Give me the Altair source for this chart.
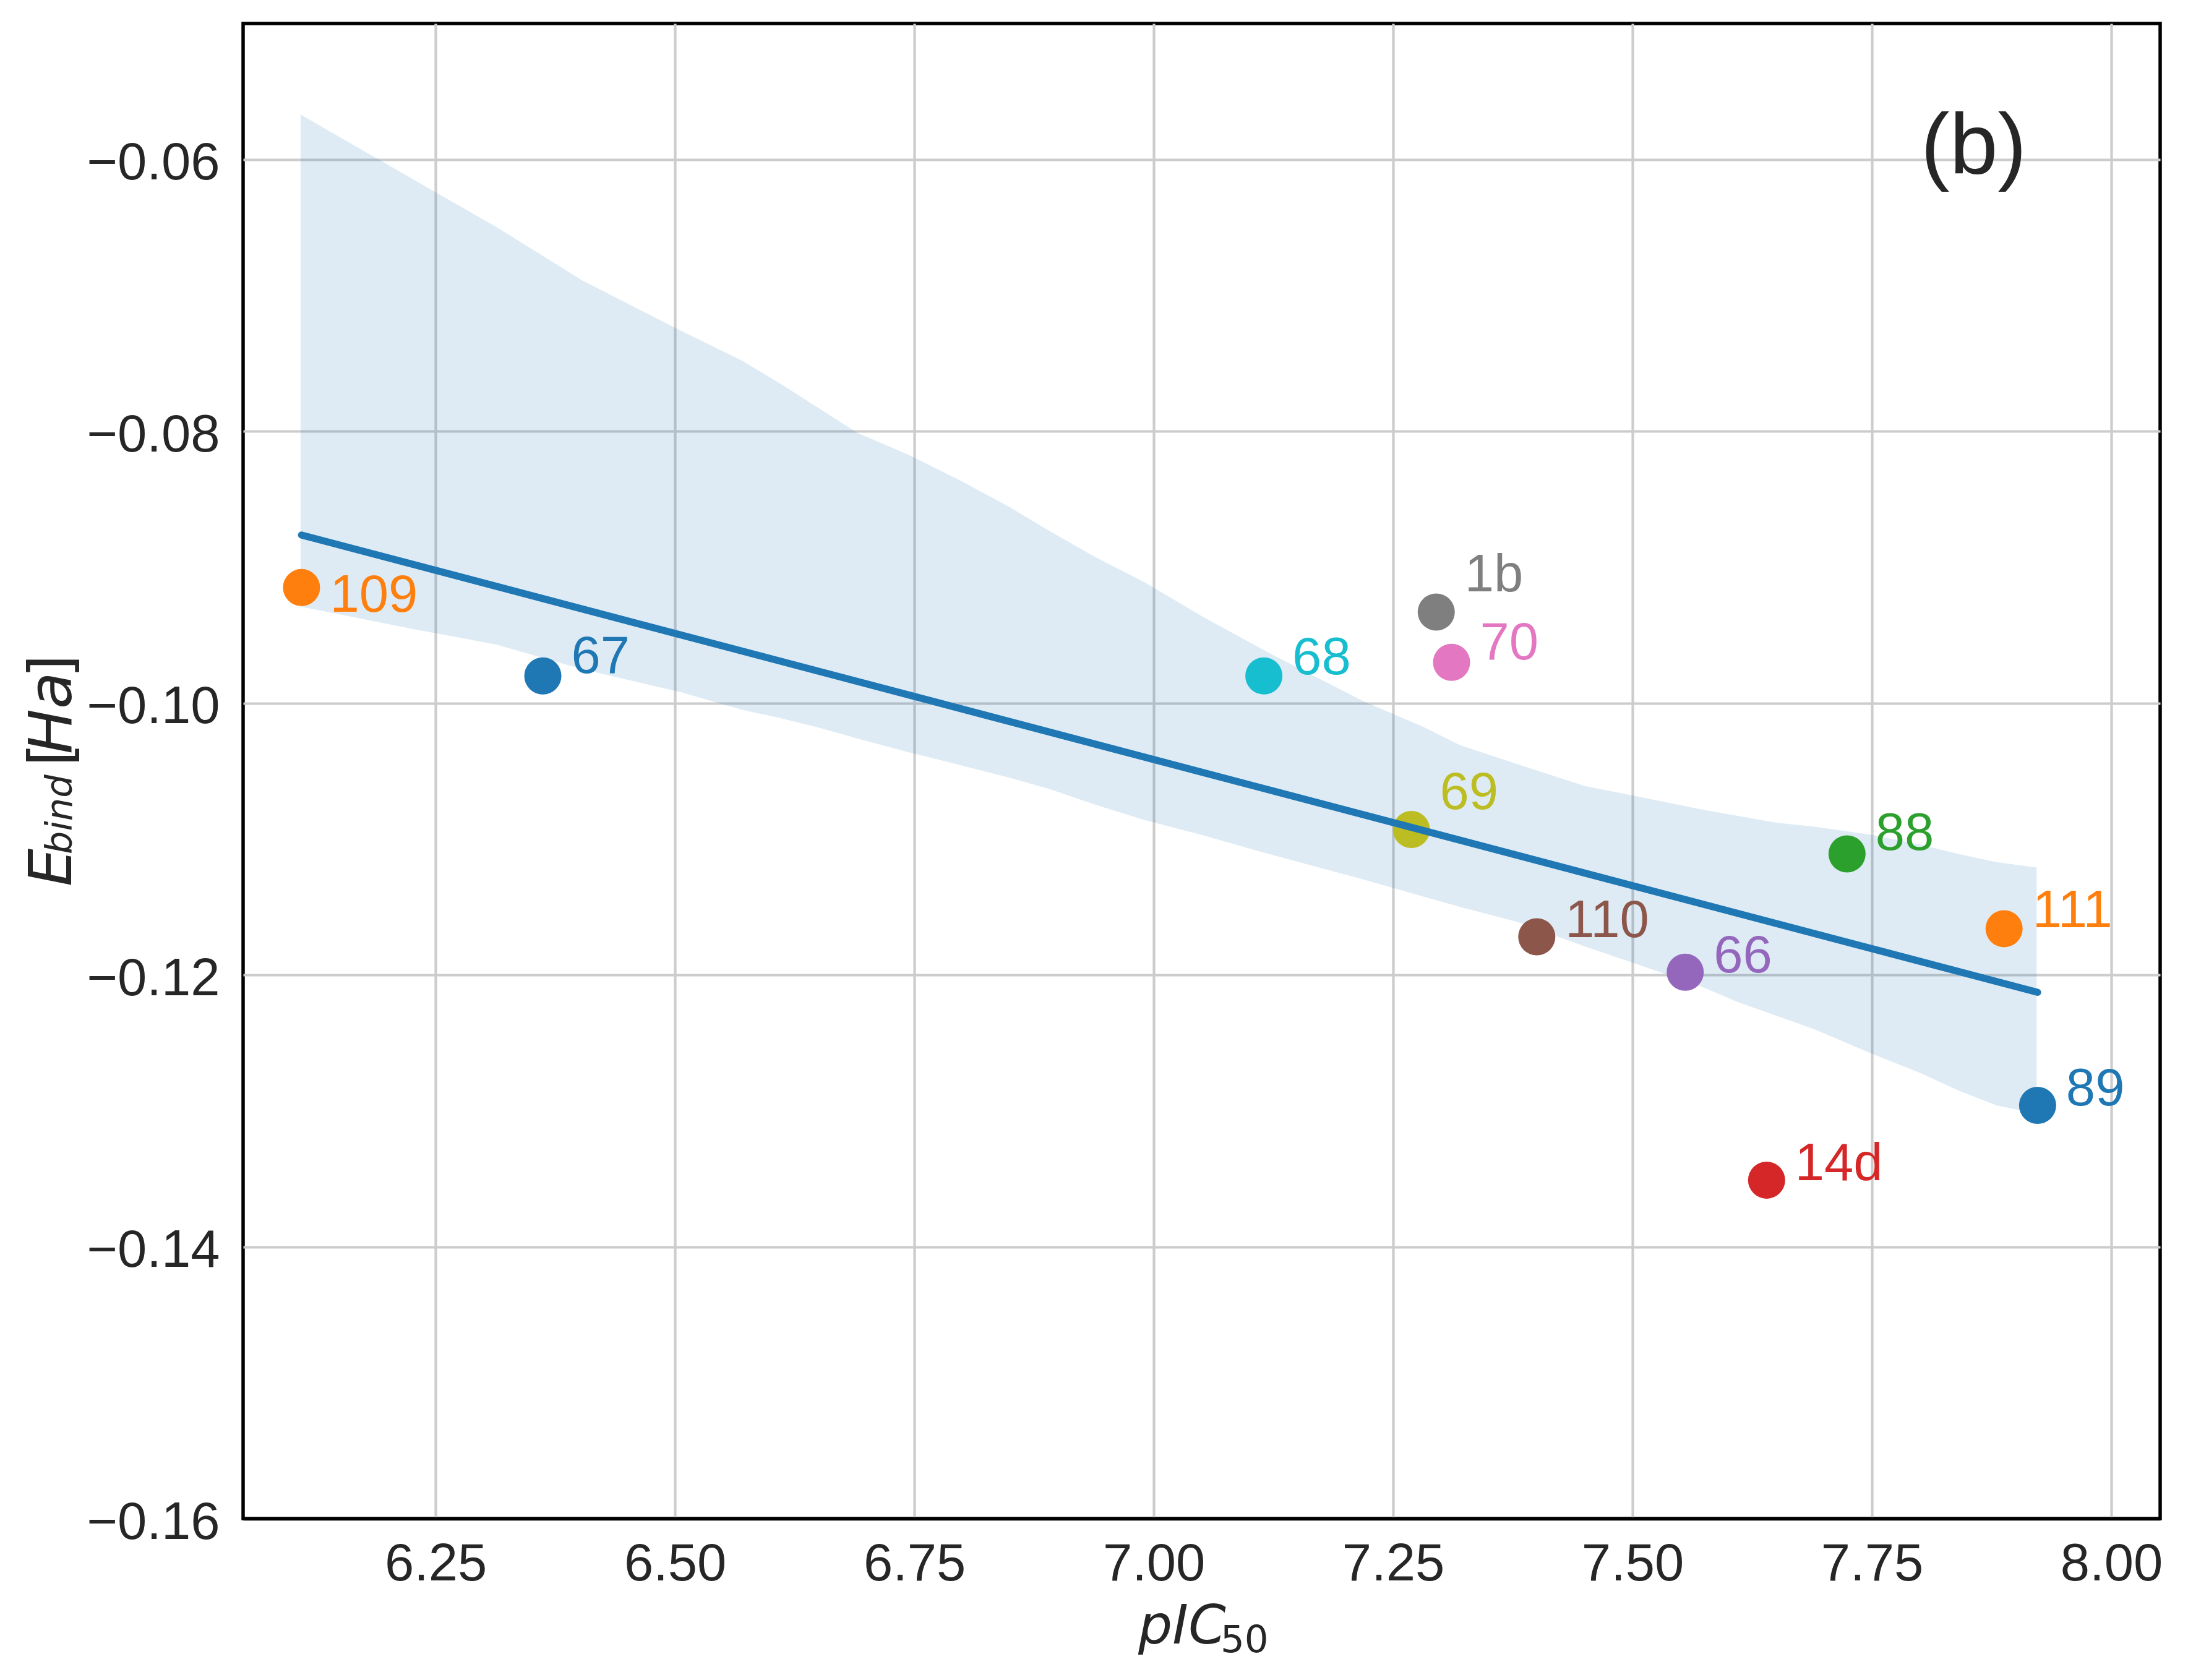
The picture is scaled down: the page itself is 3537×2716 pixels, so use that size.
import altair as alt
import pandas as pd

# ---- data ----
compounds = ["109", "67", "68", "1b", "70", "69", "88", "110", "66", "111", "89", "14d"]
pic50 = [6.110, 6.362, 7.115, 7.295, 7.311, 7.269, 7.724, 7.400, 7.555, 7.888, 7.923, 7.640]
ebind = [-0.0915, -0.0980, -0.0980, -0.0933, -0.0970, -0.1093, -0.1111, -0.1172,
         -0.1198, -0.1166, -0.1296, -0.1351]
label_y = [-0.0933, -0.0978, -0.0979, -0.0918, -0.0968, -0.1078, -0.1108, -0.1172,
           -0.1198, -0.1165, -0.1296, -0.1351]
colors = ["#ff7f0e", "#1f77b4", "#17becf", "#7f7f7f", "#e377c2", "#bcbd22",
          "#2ca02c", "#8c564b", "#9467bd", "#ff7f0e", "#1f77b4", "#d62728"]

# confidence band (upper / lower edge)
band_x = [6.109, 6.23, 6.314, 6.403, 6.506, 6.57, 6.61, 6.65, 6.69, 6.743, 6.80, 6.85,
          6.89, 6.94, 6.99, 7.05, 7.12, 7.22, 7.28, 7.32, 7.38, 7.45, 7.50, 7.57,
          7.61, 7.65, 7.69, 7.75, 7.80, 7.84, 7.88, 7.922]
band_hi = [-0.0567, -0.0616, -0.0650, -0.0689, -0.0726, -0.0748, -0.0765, -0.0783,
           -0.0801, -0.0817, -0.0837, -0.0856, -0.0873, -0.0893, -0.0911, -0.0936,
           -0.0963, -0.0999, -0.1017, -0.1031, -0.1045, -0.1061, -0.1068, -0.1078,
           -0.1083, -0.1088, -0.1091, -0.1097, -0.1104, -0.1111, -0.1117, -0.1121]
band_lo = [-0.0929, -0.0946, -0.0957, -0.0975, -0.0992, -0.1005, -0.1011, -0.1018,
           -0.1026, -0.1036, -0.1046, -0.1055, -0.1063, -0.1075, -0.1086, -0.1097,
           -0.1111, -0.1130, -0.1142, -0.1150, -0.1161, -0.1179, -0.1191, -0.1208,
           -0.1220, -0.1230, -0.1240, -0.1258, -0.1272, -0.1285, -0.1296, -0.1302]

x_ticks = [6.25, 6.50, 6.75, 7.00, 7.25, 7.50, 7.75, 8.00]
y_ticks = [-0.16, -0.14, -0.12, -0.10, -0.08, -0.06]
panel_label = ["(b)"]
panel_pos = [7.801, -0.06105]

pts = pd.DataFrame({"compound": compounds, "pic50": pic50, "ebind": ebind,
                    "label_y": label_y, "color": colors})
band = pd.DataFrame({"pic50": band_x, "ebind": band_hi, "lo": band_lo})

TXT = "#262626"
xs = alt.Scale(domain=[6.049, 8.051], nice=False, zero=False)
ys = alt.Scale(domain=[-0.16, -0.05], nice=False, zero=False)

xaxis = alt.Axis(values=x_ticks, format=".2f", title=None, ticks=False, tickSize=0,
                 domain=False, grid=True, gridColor="#cccccc", gridWidth=4.2,
                 labelFontSize=85, labelFont="Liberation Sans", labelColor=TXT,
                 labelPadding=32, labelFlush=False, labelOverlap=False, labelLimit=0)
yaxis = alt.Axis(values=y_ticks, format=".2f", title=None, ticks=False, tickSize=0,
                 domain=False, grid=True,
                 gridColor={"condition": {"test": "datum.value < -0.159", "value": "black"},
                            "value": "#cccccc"},
                 gridWidth={"condition": {"test": "datum.value < -0.159", "value": 5.5},
                            "value": 4.2},
                 labelFontSize=85, labelFont="Liberation Sans", labelColor=TXT,
                 labelPadding=38, labelBaseline="alphabetic", labelOffset=32,
                 labelFlush=False, labelOverlap=False, labelLimit=0)

band_layer = alt.Chart(band).mark_area(color="#1f77b4", opacity=0.15).encode(
    x=alt.X("pic50:Q", scale=xs, axis=xaxis),
    y=alt.Y("ebind:Q", scale=ys, axis=yaxis),
    y2="lo:Q",
)

point_layer = alt.Chart(pts).mark_circle(size=3600, opacity=1).encode(
    x=alt.X("pic50:Q", scale=xs, axis=xaxis),
    y=alt.Y("ebind:Q", scale=ys, axis=yaxis),
    color=alt.Color("color:N", scale=None),
)

line_layer = alt.Chart(pts).transform_regression("pic50", "ebind").mark_line(
    color="#1f77b4", strokeWidth=11.5, strokeCap="round"
).encode(
    x=alt.X("pic50:Q", scale=xs, axis=xaxis),
    y=alt.Y("ebind:Q", scale=ys, axis=yaxis),
)

label_layer = alt.Chart(pts).mark_text(
    align="left", baseline="alphabetic", dx=46, fontSize=85, font="Liberation Sans"
).encode(
    x=alt.X("pic50:Q", scale=xs, axis=xaxis),
    y=alt.Y("label_y:Q", scale=ys, axis=yaxis),
    text="compound:N",
    color=alt.Color("color:N", scale=None),
)

panel_layer = alt.Chart(pd.DataFrame({"t": panel_label, "x": [panel_pos[0]], "y": [panel_pos[1]]})).mark_text(
    align="left", baseline="alphabetic", fontSize=140, font="Liberation Sans", color=TXT
).encode(
    x=alt.X("x:Q", scale=xs, axis=xaxis),
    y=alt.Y("y:Q", scale=ys, axis=yaxis),
    text="t:N",
)


def piece(text, px, py, size, italic, angle=0):
    kw = dict(align="left", baseline="alphabetic", fontSize=size, font="DejaVu Sans",
              color=TXT, angle=angle)
    if italic:
        kw["fontStyle"] = "italic"
    return alt.Chart(pd.DataFrame({"t": [text]})).mark_text(**kw).encode(
        x=alt.value(px), y=alt.value(py), text="t:N"
    )


# axis titles (math-style with subscripts)
title_layers = [
    piece("pIC", 1447, 2619, 87, True),
    piece("50", 1580, 2633, 61, False),
    piece("E", -278, 1395, 97, True, 270),
    piece("bind", -277, 1343, 59, True, 270),
    piece("[", -278, 1201, 97, False, 270),
    piece("Ha", -278, 1181, 97, True, 270),
    piece("]", -278, 1058, 97, False, 270),
]

chart = alt.layer(
    band_layer, point_layer, line_layer, label_layer, panel_layer, *title_layers
).properties(
    width=3099,
    height=2417,
    autosize=alt.AutoSizeParams(type="none"),
    padding={"left": 385, "top": 30, "right": 37, "bottom": 253},
    background="white",
).configure_view(
    stroke="black", strokeWidth=5.5
)

chart.save("out.html", embed_options={"renderer": "svg", "actions": False})
